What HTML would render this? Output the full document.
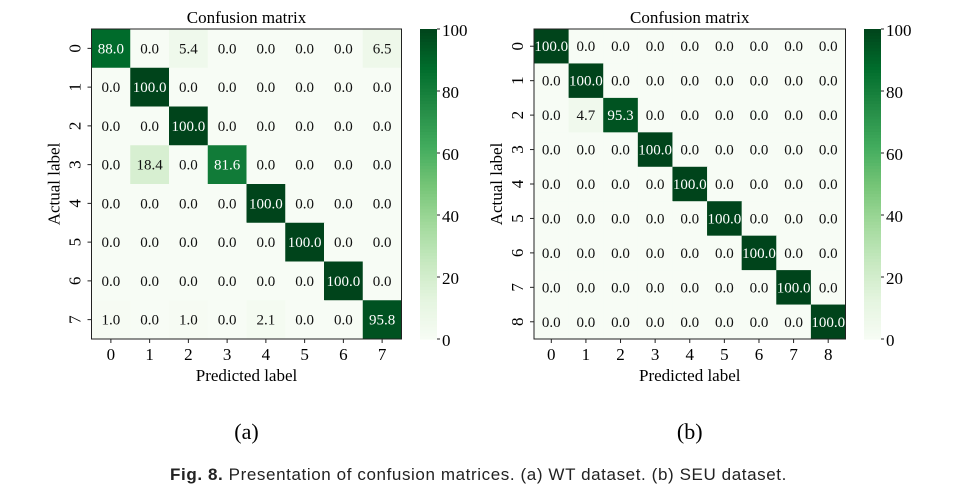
<!DOCTYPE html>
<html><head><meta charset="utf-8"><style>
body{margin:0;background:#fff;width:957px;height:502px;overflow:hidden;font-family:"Liberation Serif",serif}
svg{position:absolute;left:0;top:0}
.cap{position:absolute;top:465px;left:0;width:957px;text-align:center;font-family:"Liberation Sans",sans-serif;font-size:17px;letter-spacing:0.6px;color:#222}
</style></head><body>
<svg id="s" width="957" height="502"></svg>
<div class="cap"><b>Fig. 8.</b> Presentation of confusion matrices. (a) WT dataset. (b) SEU dataset.</div>
<script>
const wtValues=[
[88.0,0.0,5.4,0.0,0.0,0.0,0.0,6.5],
[0.0,100.0,0.0,0.0,0.0,0.0,0.0,0.0],
[0.0,0.0,100.0,0.0,0.0,0.0,0.0,0.0],
[0.0,18.4,0.0,81.6,0.0,0.0,0.0,0.0],
[0.0,0.0,0.0,0.0,100.0,0.0,0.0,0.0],
[0.0,0.0,0.0,0.0,0.0,100.0,0.0,0.0],
[0.0,0.0,0.0,0.0,0.0,0.0,100.0,0.0],
[1.0,0.0,1.0,0.0,2.1,0.0,0.0,95.8]];
const seuValues=[
[100.0,0,0,0,0,0,0,0,0],
[0,100.0,0,0,0,0,0,0,0],
[0,4.7,95.3,0,0,0,0,0,0],
[0,0,0,100.0,0,0,0,0,0],
[0,0,0,0,100.0,0,0,0,0],
[0,0,0,0,0,100.0,0,0,0],
[0,0,0,0,0,0,100.0,0,0],
[0,0,0,0,0,0,0,100.0,0],
[0,0,0,0,0,0,0,0,100.0]];
const cbTicks=[0,20,40,60,80,100];
const NS="http://www.w3.org/2000/svg";
const svg=document.getElementById('s');
const stops=["#f7fcf5","#e5f5e0","#c7e9c0","#a1d99b","#74c476","#41ab5d","#238b45","#006d2c","#00441b"];
function hex(h){return [1,3,5].map(i=>parseInt(h.substr(i,2),16));}
function greens(v){let t=Math.max(0,Math.min(1,v/100))*8;let i=Math.min(7,Math.floor(t));let f=t-i;
 let a=hex(stops[i]),b=hex(stops[i+1]);return `rgb(${a.map((c,k)=>Math.round(c+(b[k]-c)*f)).join(',')})`;}
function el(tag,attrs,parent){const e=document.createElementNS(NS,tag);for(const k in attrs)e.setAttribute(k,attrs[k]);(parent||svg).appendChild(e);return e;}
function txt(x,y,s,size,attrs){const t=el('text',Object.assign({x:x,y:y,'font-size':size,'text-anchor':'middle','font-family':'Liberation Serif, serif'},attrs||{}));t.textContent=s;return t;}
function matrix(vals,x0,y0,w,h,cbx,sub,prefix){
 const n=vals.length,cw=w/n,ch=h/n;
 const g=el('g',{});
 
 
 vals.forEach((row,r)=>row.forEach((v,c)=>{
  const rc=el('rect',{x:x0+c*cw,y:y0+r*ch,width:cw+0.5,height:ch+0.5,fill:greens(v)},g);
  
  
  const t=txt(x0+c*cw+cw/2,y0+r*ch+ch/2+5,v.toFixed(1),15,{fill:v>50?'#fff':'#111'});
  
  
 }));
 el('rect',{x:x0,y:y0,width:w,height:h,fill:'none',stroke:'#222','stroke-width':1});
 for(let i=0;i<n;i++){
  const xt=x0+i*cw+cw/2,yt=y0+i*ch+ch/2;
  el('line',{x1:xt,y1:y0+h,x2:xt,y2:y0+h+4,stroke:'#222'});
  const a=txt(xt,y0+h+21,String(i),17);
  
  el('line',{x1:x0-4,y1:yt,x2:x0,y2:yt,stroke:'#222'});
  const b=txt(0,0,String(i),17,{transform:`translate(${x0-11},${yt}) rotate(-90)`});
  
 }
 const ti=txt(x0+w/2,y0-6,'Confusion matrix',17);
 
 const xl=txt(x0+w/2,y0+h+42,'Predicted label',17);
 
 const yl=txt(0,0,'Actual label',17,{transform:`translate(${x0-32},${y0+h/2}) rotate(-90)`});
 
 const sl=txt(x0+w/2,y0+h+100,sub,22);
 
 const cbw=17;
 for(let k=0;k<100;k++){
  el('rect',{x:cbx,y:y0+h-(k+1)*h/100,width:cbw,height:h/100+0.6,fill:greens(k+0.5)});
 }
 cbTicks.forEach(tv=>{
  const yy=y0+h-tv/100*h;
  el('line',{x1:cbx+cbw,y1:yy,x2:cbx+cbw+3,y2:yy,stroke:'#222'});
  const t=txt(cbx+cbw+5,yy+7,String(tv),17,{'text-anchor':'start'});
  
 });
}
matrix(wtValues,91.5,29,310,310,420,'(a)','wt');
matrix(seuValues,534,29,311.5,310,864,'(b)','seu');
</script>
</body></html>
